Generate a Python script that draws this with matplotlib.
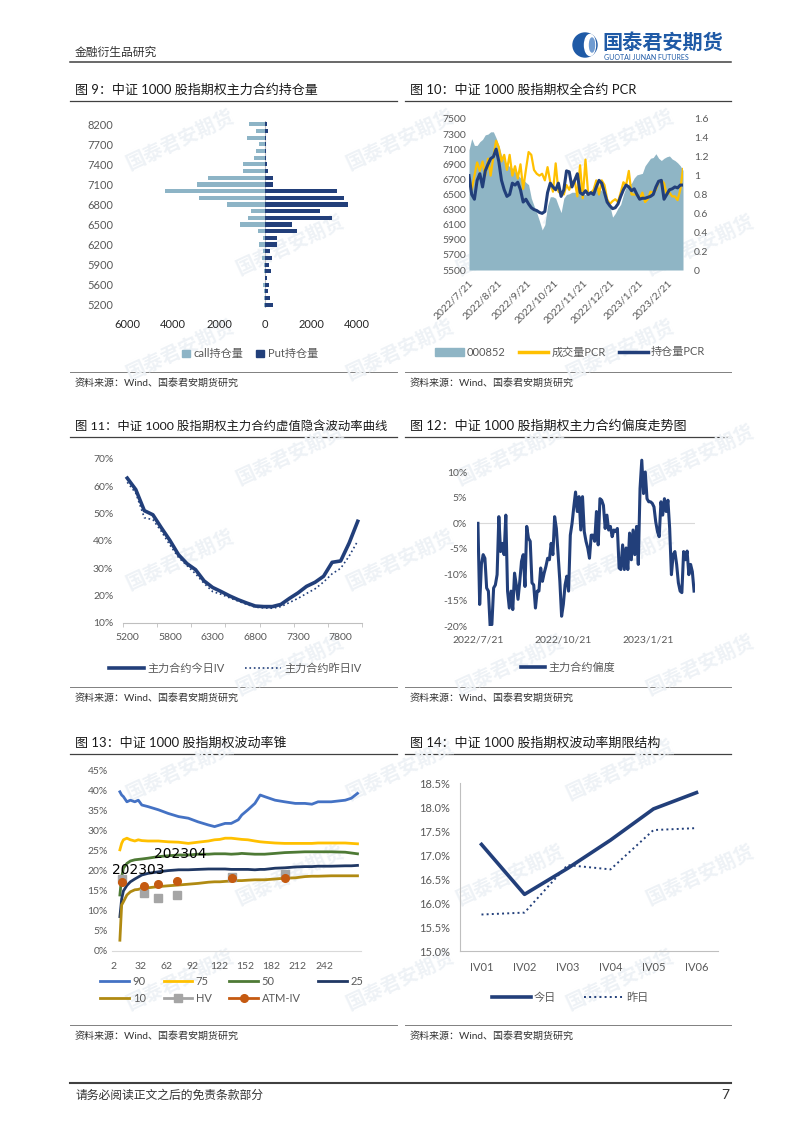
import numpy as np
import matplotlib
matplotlib.use('Agg')
import matplotlib.pyplot as plt
from matplotlib.lines import Line2D
from matplotlib.patches import Patch, Circle, Ellipse
from matplotlib.ticker import FuncFormatter

plt.rcParams['font.family'] = ['Lato', 'Noto Sans CJK SC', 'DejaVu Sans']
plt.rcParams['axes.unicode_minus'] = False

# ---------------- data ----------------
# fig 9: open interest by strike (top to bottom)
strikes = [8200, 8000, 7800, 7700, 7600, 7500, 7400, 7300, 7200, 7100, 7000, 6900, 6800, 6700,
           6600, 6500, 6400, 6300, 6200, 6100, 6000, 5900, 5800, 5700, 5600, 5500, 5400, 5200]
call_oi = [700, 370, 770, 280, 370, 500, 950, 950, 2470, 2950, 4330, 2850, 1660, 590,
           730, 1070, 300, 80, 250, 100, 130, 30, 60, 20, 100, 50, 50, 50]
put_oi = [70, 110, 60, 50, 50, 60, 90, 110, 340, 340, 3150, 3450, 3630, 2380,
          2930, 1160, 1410, 530, 520, 210, 310, 160, 240, 90, 190, 130, 220, 340]

# fig 10: index level and PCR, 2022/7/21 - 2023/3
pcr_dates = ['2022/7/21', '2022/8/21', '2022/9/21', '2022/10/21', '2022/11/21',
             '2022/12/21', '2023/1/21', '2023/2/21']
pcr_date_days = [0, 31, 62, 92, 123, 153, 184, 215]
pcr_span_days = 232
csi1000 = [7090, 7240, 7150, 7150, 7200, 7230, 7290, 7300, 7330, 7330,
           7250, 7150, 7020, 6950, 6900, 6870, 6850, 6800, 6760, 6720,
           6700, 6660, 6630, 6450, 6350, 6260, 6150, 6030, 6100, 6350,
           6470, 6470, 6450, 6350, 6260, 6450, 6500, 6510, 6530, 6530,
           6520, 6510, 6500, 6500, 6520, 6540, 6560, 6570, 6580, 6550,
           6480, 6420, 6350, 6200, 6250, 6320, 6370, 6500, 6600, 6630,
           6650, 6720, 6760, 6770, 6780, 6880, 6930, 6980, 6990, 7040,
           6980, 6950, 6980, 7000, 7010, 6970, 6950, 6920, 6880, 6820]
vol_pcr = [0.95, 0.85, 1.0, 1.14, 1.05, 1.15, 1.0, 1.18, 1.0, 1.2,
           1.37, 1.3, 1.15, 1.22, 1.06, 1.22, 1.0, 1.1, 0.97, 1.12,
           0.86, 1.06, 1.25, 1.22, 1.06, 1.02, 1.0, 1.02, 0.95, 1.09,
           0.93, 0.83, 1.13, 0.83, 0.81, 0.8, 0.9, 0.85, 0.93, 0.95,
           0.78, 1.11, 0.76, 1.17, 0.8, 0.82, 0.85, 0.95, 0.8, 0.95,
           0.9, 0.75, 0.7, 0.73, 0.75, 0.72, 0.82, 0.93, 0.9, 1.05,
           0.8, 0.8, 0.8, 0.75, 0.82, 0.72, 0.75, 0.83, 0.82, 0.85,
           0.93, 0.95, 0.92, 0.8, 0.82, 0.78, 0.78, 0.74, 0.85, 1.07]
oi_pcr = [1.0, 0.8, 0.75, 0.95, 1.02, 0.88, 1.05, 1.12, 1.18, 1.2,
          1.28, 1.15, 0.95, 0.85, 0.78, 0.8, 0.92, 0.9, 0.93, 0.85,
          0.72, 0.75, 0.7, 0.66, 0.64, 0.63, 0.61, 0.6, 0.62, 0.82,
          0.92, 0.88, 0.85, 0.92, 0.78, 0.85, 1.05, 1.04, 0.88, 0.95,
          1.02, 0.82, 0.8, 0.84, 0.8, 0.82, 0.8, 0.88, 0.95, 0.92,
          0.82, 0.72, 0.68, 0.65, 0.66, 0.7, 0.78, 0.85, 0.9, 0.88,
          0.84, 0.86, 0.8, 0.75, 0.76, 0.76, 0.77, 0.78, 0.8, 0.88,
          0.94, 0.95, 0.75, 0.8, 0.85, 0.86, 0.88, 0.87, 0.9, 0.9]

# fig 11: smile of main contract (strikes ascending)
smile_strikes = strikes[::-1]
iv_today = [63.0, 58.8, 51.1, 49.6, 44.8, 40.2, 35.0, 31.7, 29.5, 25.4, 23.0, 21.5, 19.9, 18.5,
            17.3, 16.2, 16.0, 16.0, 16.8, 19.0, 21.0, 23.4, 24.9, 27.1, 32.2, 32.7, 39.3, 47.2]
iv_yday = [61.5, 57.5, 48.5, 47.8, 43.5, 38.5, 34.0, 31.0, 28.0, 24.5, 21.5, 20.5, 19.2, 18.0,
           16.8, 15.8, 15.5, 15.4, 16.0, 17.5, 19.0, 20.8, 22.5, 25.0, 28.0, 30.0, 34.5, 40.0]

# fig 12: skew of main contract
skew_dates = ['2022/7/21', '2022/10/21', '2023/1/21']
skew_date_days = [0, 92, 184]
skew_span_days = 233
skew = [0, -15.8, -8, -6.1, -6.8, -12.6, -13.2, -20, -19.7, -12.6,
        -12, -10, 1.3, -5.5, -3.9, -6.1, 1.6, -13.2, -16.5, -13.2,
        -16.8, -9.7, -12, -14.8, -11.3, -7.4, -6.1, -12.3, -0.6, -2.9,
        -3.5, -11.6, -12, -16.5, -13.2, -13.2, -8.7, -11.3, -9.7, -8.4,
        -6.8, -7.1, -3.9, -6.1, 1.3, -1, -6.1, -11.3, -18.1, -15.8,
        -12, -10.3, -13.2, -2.3, 0, 3.2, 6.1, 2.3, 5.2, -1.3,
        5.2, -1.6, -3.5, -4.8, -6.8, -2.3, -2.3, -3.5, 2.3, -4.2,
        4.8, 4.5, 3.5, -1, 1.6, -1.3, -0.6, -2.6, -1.3, -1.6,
        -1, -8.7, -9, -4.2, -9, -4.8, -9, -1.9, -7.1, -1.3,
        -6.1, -0.6, -8, 6.8, 12.3, 5.8, 10, 4.8, 4.2, 4.2,
        3.9, 3.2, 0.3, -1.6, -2.6, 4.2, 1.6, 4.8, 2.3, 4.5,
        -1, -10, -6.1, -5.5, -8, -11.6, -13.2, -13.5, -5.5, -7.1,
        -5.4, -10, -8, -9.4, -13.2]

# fig 13: volatility cone (days to expiry)
cone_days = [9, 11, 13, 17, 21, 26, 30, 34, 41, 53, 64, 76, 87, 98, 110, 117, 123, 129,
             136, 144, 148, 155, 163, 169, 174, 186, 197, 209, 220, 228, 235, 250, 266, 273, 280]
cone_90 = [39.8, 39.0, 38.6, 37.3, 37.7, 37.3, 37.7, 36.5, 36.1, 35.3, 34.4, 33.6, 33.2, 32.3,
           31.5, 31.1, 31.5, 31.9, 31.9, 32.8, 34.0, 35.3, 36.9, 39.0, 38.6, 37.7, 37.3, 36.9,
           36.9, 36.7, 37.3, 37.3, 37.7, 38.2, 39.4]
cone_75 = [25.3, 26.9, 27.8, 28.2, 27.8, 27.5, 27.8, 27.6, 27.5, 27.5, 27.3, 27.2, 26.9, 27.2,
           27.5, 27.8, 27.9, 28.2, 28.2, 28.0, 27.9, 27.8, 27.5, 27.3, 27.2, 27.0, 26.9, 26.9,
           26.9, 26.9, 27.0, 27.0, 27.0, 26.9, 26.8]
cone_50 = [14.0, 18.5, 20.7, 21.9, 22.5, 22.8, 22.9, 23.0, 23.2, 23.6, 23.8, 24.0, 24.0, 24.2,
           24.2, 24.3, 24.3, 24.3, 24.2, 24.3, 24.4, 24.3, 24.2, 24.2, 24.2, 24.4, 24.6, 24.7,
           24.8, 24.8, 24.8, 24.8, 24.7, 24.5, 24.3]
cone_25 = [8.6, 13.0, 15.0, 16.4, 17.3, 18.0, 18.5, 19.0, 19.4, 19.8, 20.1, 20.3, 20.3, 20.4,
           20.5, 20.5, 20.5, 20.5, 20.4, 20.4, 20.4, 20.4, 20.3, 20.4, 20.4, 20.7, 20.8, 21.0,
           21.1, 21.1, 21.2, 21.2, 21.3, 21.3, 21.4]
cone_10 = [2.7, 11.5, 12.3, 14.0, 14.8, 15.3, 15.4, 15.7, 15.8, 16.1, 16.3, 16.5, 16.7, 16.9,
           17.2, 17.3, 17.3, 17.4, 17.5, 17.6, 17.6, 17.7, 17.8, 17.8, 17.8, 18.0, 18.2, 18.3,
           18.6, 18.7, 18.7, 18.8, 18.8, 18.8, 18.8]
contract_days = [11, 36, 53, 74, 137, 197]
hv = [18.0, 14.4, 13.3, 14.0, 18.6, 19.2]
atm_iv = [17.2, 16.25, 16.7, 17.5, 18.2, 18.3]

# fig 14: term structure
terms = ['IV01', 'IV02', 'IV03', 'IV04', 'IV05', 'IV06']
ts_today = [17.22, 16.18, 16.72, 17.31, 17.96, 18.30]
ts_yday = [15.76, 15.80, 16.79, 16.70, 17.52, 17.56]

# ---------------- style ----------------
W, H = 802, 1134
NAVY = '#223F7A'
CALL = '#8DB4C6'
AREA = '#8FB5C5'
YELLOW = '#FFC000'
TXT = '#595959'
DARK = '#262626'

fig = plt.figure(figsize=(W / 100, H / 100), dpi=100)
page = fig.add_axes([0, 0, 1, 1], zorder=-5)
page.set_xlim(0, W)
page.set_ylim(H, 0)
page.axis('off')

# faint watermarks
for r, wy in enumerate(range(140, 1060, 105)):
    cols = [180, 400, 620] if r % 2 == 0 else [290, 510, 700]
    for wx in cols:
        page.text(wx, wy, '国泰君安期货', rotation=25, fontsize=14, fontweight='bold',
                  color='#EEF2F6', ha='center', va='center', family='Noto Sans CJK SC')

# header
page.text(75, 52, '金融衍生品研究', fontsize=8.5, va='center', color='#333333')
page.plot([70, 731], [62, 62], color='#404040', lw=1.1)
page.add_patch(Circle((585, 45), 12, color='#1F5AA6'))
page.add_patch(Ellipse((590, 45), 11, 21, color='white'))
page.add_patch(Ellipse((592, 45), 5, 14, color='#6F9BD1'))
page.text(602, 43, '国泰君安期货', fontsize=14.5, fontweight='bold', color='#1F5AA6', va='center')
page.text(604, 57, 'GUOTAI JUNAN FUTURES', fontsize=5, color='#1F5AA6', va='center')

titles = [(75, 90, '图 9：中证 1000 股指期权主力合约持仓量', 9.4),
          (410, 90, '图 10：中证 1000 股指期权全合约 PCR', 9.4),
          (75, 426, '图 11：中证 1000 股指期权主力合约虚值隐含波动率曲线', 8.9),
          (410, 426, '图 12：中证 1000 股指期权主力合约偏度走势图', 9.4),
          (75, 743, '图 13：中证 1000 股指期权波动率锥', 9.4),
          (410, 743, '图 14：中证 1000 股指期权波动率期限结构', 9.4)]
for tx, ty, t, fs in titles:
    page.text(tx, ty, t, fontsize=fs, va='center', color='#1A1A1A')
    x0, x1 = (70, 397) if tx < 400 else (405, 731)
    page.plot([x0, x1], [ty + 11, ty + 11], color='#404040', lw=0.9)

for sy in [383, 698, 1036]:
    for x0, x1 in [(70, 397), (405, 731)]:
        page.plot([x0, x1], [sy - 11, sy - 11], color='#808080', lw=0.7)
        page.text(x0 + 5, sy, '资料来源：Wind、国泰君安期货研究', fontsize=7.2, va='center', color='#333333')

page.plot([70, 731], [1083, 1083], color='#404040', lw=1.5)
page.text(75, 1095, '请务必阅读正文之后的免责条款部分', fontsize=8.5, va='center', color='#333333')
page.text(725, 1095, '7', fontsize=10, va='center', ha='center', color='#333333')


def panel(l, t, r, b):
    ax = fig.add_axes([l / W, 1 - b / H, (r - l) / W, (b - t) / H])
    ax.set_facecolor('none')
    for s in ax.spines.values():
        s.set_visible(False)
    ax.tick_params(length=0, labelsize=7.5, labelcolor=TXT)
    return ax


def pct(fmt):
    return FuncFormatter(lambda v, p: fmt.format(v) + '%')


def legend_at(handles, labels, cx, cy, **kw):
    opts = dict(loc='center', bbox_to_anchor=(cx / W, 1 - cy / H), frameon=False,
                fontsize=8, labelcolor=TXT, handletextpad=0.3, columnspacing=1.2)
    opts.update(kw)
    fig.legend(handles, labels, **opts)


# ---- fig 9 ----
ax = panel(127, 121, 357, 308)
yy = np.arange(len(strikes))
ax.barh(yy, [-v for v in call_oi], height=0.62, color=CALL)
ax.barh(yy, put_oi, height=0.62, color=NAVY)
ax.axvline(0, color='#BFBFBF', lw=0.8, zorder=0)
ax.set_ylim(len(strikes) - 0.5, -0.5)
ax.set_xlim(-6000, 4000)
ax.set_yticks(yy[::3])
ax.set_yticklabels([str(strikes[i]) for i in yy[::3]])
ax.set_xticks([-6000, -4000, -2000, 0, 2000, 4000])
ax.xaxis.set_major_formatter(FuncFormatter(lambda v, p: f'{abs(v):.0f}'))
ax.tick_params(axis='y', pad=10, labelsize=8)
ax.tick_params(axis='x', pad=8, labelsize=8, labelcolor=DARK)
legend_at([Patch(color=CALL), Patch(color=NAVY)], ['call持仓量', 'Put持仓量'], 250, 354,
          ncol=2, handlelength=0.7, handleheight=0.7)

# ---- fig 10 ----
ax = panel(469, 119, 683, 270)
ax.fill_between(np.linspace(0, pcr_span_days, len(csi1000)), csi1000, 5500, color=AREA, lw=0)
ax.set_xlim(0, pcr_span_days)
ax.set_ylim(5500, 7500)
ax.set_yticks(range(5500, 7501, 200))
ax.set_xticks(pcr_date_days)
ax.set_xticklabels(pcr_dates, rotation=45, ha='right', rotation_mode='anchor')
ax.tick_params(axis='y', pad=2)
ax.tick_params(axis='x', pad=6)
ax2 = ax.twinx()
ax2.set_facecolor('none')
for s in ax2.spines.values():
    s.set_visible(False)
ax2.plot(np.linspace(0, pcr_span_days, len(vol_pcr)), vol_pcr, color=YELLOW, lw=1.6)
ax2.plot(np.linspace(0, pcr_span_days, len(oi_pcr)), oi_pcr, color=NAVY, lw=2.2)
ax2.set_ylim(0, 1.6)
ax2.set_yticks(np.arange(0, 1.61, 0.2))
ax2.yaxis.set_major_formatter(FuncFormatter(lambda v, p: f'{round(v, 1):g}'))
ax2.tick_params(length=0, labelsize=7.5, labelcolor=TXT, pad=8)
legend_at([Patch(color=AREA), Line2D([], [], color=YELLOW, lw=2.5), Line2D([], [], color=NAVY, lw=2.5)],
          ['000852', '成交量PCR', '持仓量PCR'], 570, 352, ncol=3, handlelength=2.6)

# ---- fig 11 ----
ax = panel(123, 459, 362, 623)
xs = np.arange(len(smile_strikes))
ax.plot(xs, iv_today, color=NAVY, lw=2.6)
ax.plot(xs, iv_yday, color=NAVY, lw=1.2, ls=':')
ax.set_ylim(10, 70)
ax.set_yticks(range(10, 71, 10))
ax.yaxis.set_major_formatter(pct('{:.0f}'))
ax.set_xlim(-0.5, len(smile_strikes) - 0.5)
ax.set_xticks(xs[::5])
ax.set_xticklabels([str(smile_strikes[i]) for i in xs[::5]])
ax.set_xticks(np.arange(-0.5, len(smile_strikes), 4), minor=True)
ax.spines['bottom'].set_visible(True)
ax.spines['bottom'].set_color('#BFBFBF')
ax.tick_params(axis='x', which='minor', length=3, color='#BFBFBF')
ax.tick_params(axis='y', pad=7)
ax.tick_params(axis='x', pad=7)
legend_at([Line2D([], [], color=NAVY, lw=2.6), Line2D([], [], color=NAVY, lw=1.2, ls=':')],
          ['主力合约今日IV', '主力合约昨日IV'], 235, 668, ncol=2, handlelength=3.2, columnspacing=1.8)

# ---- fig 12 ----
ax = panel(477, 456.6, 695, 626)
ax.plot(np.linspace(0, skew_span_days, len(skew)), skew, color=NAVY, lw=2.2)
ax.axhline(0, color='#D9D9D9', lw=0.8, zorder=0)
ax.set_xlim(-1, skew_span_days + 1)
ax.set_ylim(-20, 13)
ax.set_yticks(range(-20, 11, 5))
ax.yaxis.set_major_formatter(pct('{:.0f}'))
ax.set_xticks(skew_date_days)
ax.set_xticklabels(skew_dates)
ax.tick_params(axis='y', pad=7)
ax.tick_params(axis='x', pad=7)
legend_at([Line2D([], [], color=NAVY, lw=2.6)], ['主力合约偏度'], 568, 667, handlelength=2.2)

# ---- fig 13 ----
ax = panel(112, 771, 361, 951)
cone = [('90', cone_90, '#4472C4'), ('75', cone_75, YELLOW), ('50', cone_50, '#4E7A35'),
        ('25', cone_25, '#203864'), ('10', cone_10, '#B08A12')]
handles = {}
for name, vals, col in cone:
    ax.plot(cone_days, vals, color=col, lw=2)
    handles[name] = Line2D([], [], color=col, lw=2)
ax.plot(contract_days, hv, ls='none', marker='s', ms=6, color='#A5A5A5')
ax.plot(contract_days, atm_iv, ls='none', marker='o', ms=5.5, color='#C55A11')
handles['HV'] = Line2D([], [], color='#A5A5A5', lw=2, marker='s', ms=6)
handles['ATM-IV'] = Line2D([], [], color='#C55A11', lw=2, marker='o', ms=5.5)
ax.text(29.6, 20.3, '202303', fontsize=10, ha='center', va='center', color='black', family='DejaVu Sans')
ax.text(77.5, 24.3, '202304', fontsize=10, ha='center', va='center', color='black', family='DejaVu Sans')
ax.set_xlim(0, 284)
ax.set_ylim(0, 45)
ax.set_yticks(range(0, 46, 5))
ax.yaxis.set_major_formatter(pct('{:.0f}'))
ax.set_xticks(range(2, 243, 30))
ax.spines['bottom'].set_visible(True)
ax.spines['bottom'].set_color('#D9D9D9')
ax.tick_params(axis='y', pad=3)
ax.tick_params(axis='x', pad=8)
order = ['90', '10', '75', 'HV', '50', 'ATM-IV', '25']
legend_at([handles[k] for k in order], order, 232, 990, ncol=4, handlelength=2.6,
          columnspacing=1.6, labelspacing=0.6)

# ---- fig 14 ----
ax = panel(460, 783, 718, 951)
xt = np.arange(len(terms))
ax.plot(xt, ts_today, color=NAVY, lw=2.6)
ax.plot(xt, ts_yday, color=NAVY, lw=1.4, ls=':')
ax.set_xlim(-0.5, len(terms) - 0.5)
ax.set_ylim(15, 18.5)
ax.set_yticks(np.arange(15, 18.51, 0.5))
ax.yaxis.set_major_formatter(pct('{:.1f}'))
ax.set_xticks(xt)
ax.set_xticklabels(terms)
for s in ['left', 'bottom']:
    ax.spines[s].set_visible(True)
    ax.spines[s].set_color('#BFBFBF')
ax.tick_params(axis='y', pad=7, labelsize=8)
ax.tick_params(axis='x', pad=8, labelsize=8)
legend_at([Line2D([], [], color=NAVY, lw=2.6), Line2D([], [], color=NAVY, lw=1.4, ls=':')],
          ['今日', '昨日'], 570, 997, ncol=2, handlelength=3.5, columnspacing=2.5)

fig.savefig('out.png', dpi=100)
